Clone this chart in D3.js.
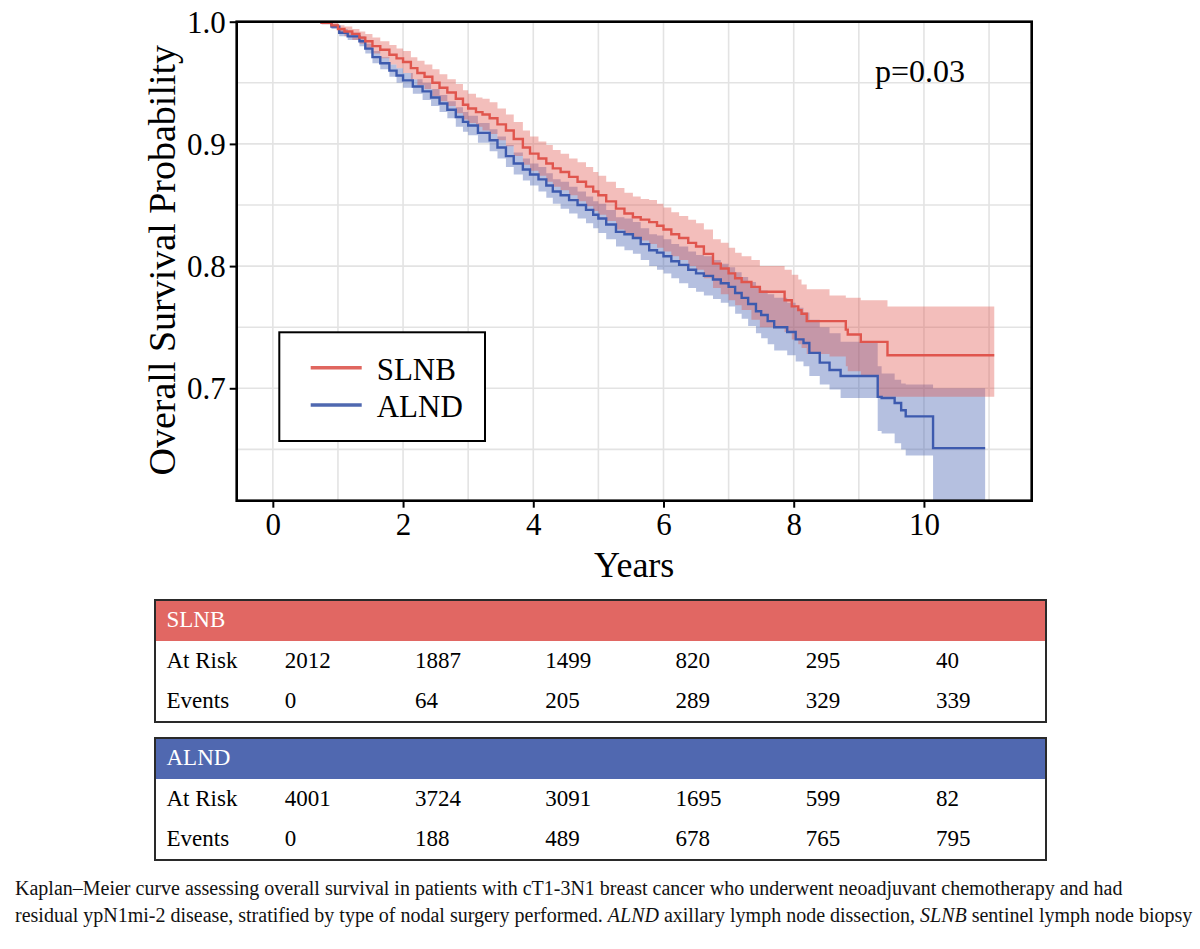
<!DOCTYPE html>
<html>
<head>
<meta charset="utf-8">
<script src="https://cdn.jsdelivr.net/npm/d3@7"></script>
<style>
  body { margin: 0; background: #fff; }
  svg { display: block; }
  .serif { font-family: "Liberation Serif", "Times New Roman", serif; }
</style>
</head>
<body>
<div id="chart"></div>
<script>
// Kaplan-Meier estimates: [years, survival, lower CI, upper CI]
var slnbKM = [
  [0.60, 1.000, 1.000, 1.000], [0.75, 0.999, 0.998, 1.000], [0.90, 0.997, 0.995, 0.999],
  [1.00, 0.994, 0.991, 0.997], [1.10, 0.992, 0.988, 0.996], [1.22, 0.990, 0.985, 0.994],
  [1.33, 0.987, 0.982, 0.992], [1.42, 0.984, 0.978, 0.990], [1.53, 0.980, 0.974, 0.987],
  [1.65, 0.977, 0.970, 0.984], [1.79, 0.973, 0.965, 0.981], [1.90, 0.970, 0.962, 0.978],
  [2.00, 0.967, 0.958, 0.976], [2.12, 0.962, 0.953, 0.971], [2.22, 0.958, 0.948, 0.968],
  [2.33, 0.955, 0.945, 0.965], [2.45, 0.950, 0.939, 0.961], [2.56, 0.946, 0.935, 0.957],
  [2.68, 0.942, 0.931, 0.953], [2.81, 0.937, 0.925, 0.949], [2.92, 0.932, 0.920, 0.944],
  [3.00, 0.929, 0.917, 0.941], [3.12, 0.926, 0.914, 0.938], [3.22, 0.924, 0.911, 0.937],
  [3.33, 0.921, 0.908, 0.934], [3.45, 0.916, 0.903, 0.929], [3.58, 0.911, 0.898, 0.924],
  [3.70, 0.904, 0.890, 0.918], [3.84, 0.897, 0.883, 0.911], [3.95, 0.892, 0.878, 0.906],
  [4.08, 0.888, 0.874, 0.902], [4.20, 0.884, 0.869, 0.899], [4.30, 0.880, 0.865, 0.895],
  [4.42, 0.877, 0.862, 0.892], [4.55, 0.873, 0.858, 0.888], [4.68, 0.869, 0.853, 0.885],
  [4.81, 0.865, 0.849, 0.881], [4.92, 0.861, 0.845, 0.877], [5.00, 0.858, 0.842, 0.874],
  [5.12, 0.853, 0.837, 0.869], [5.27, 0.847, 0.830, 0.864], [5.40, 0.843, 0.826, 0.860],
  [5.53, 0.840, 0.823, 0.857], [5.65, 0.838, 0.821, 0.855], [5.78, 0.836, 0.818, 0.854],
  [5.90, 0.833, 0.815, 0.851], [6.00, 0.830, 0.812, 0.848], [6.12, 0.826, 0.808, 0.844],
  [6.24, 0.823, 0.805, 0.841], [6.38, 0.819, 0.800, 0.838], [6.50, 0.816, 0.797, 0.835],
  [6.62, 0.810, 0.790, 0.830], [6.76, 0.802, 0.782, 0.822], [6.88, 0.798, 0.777, 0.819],
  [7.00, 0.794, 0.772, 0.815], [7.10, 0.790, 0.768, 0.811], [7.20, 0.787, 0.764, 0.808],
  [7.35, 0.783, 0.756, 0.805], [7.48, 0.779, 0.750, 0.800], [7.86, 0.772, 0.746, 0.797],
  [7.97, 0.767, 0.740, 0.793], [8.07, 0.764, 0.736, 0.789], [8.12, 0.761, 0.733, 0.785],
  [8.20, 0.755, 0.728, 0.781], [8.55, 0.755, 0.726, 0.776], [8.80, 0.748, 0.718, 0.774],
  [8.83, 0.744, 0.714, 0.774], [9.03, 0.738, 0.710, 0.772], [9.30, 0.738, 0.693, 0.772],
  [9.44, 0.727, 0.693, 0.767], [11.08, 0.727, 0.693, 0.767]
];

var alndKM = [
  [0.60, 1.000, 1.000, 1.000], [0.75, 0.999, 0.998, 1.000], [0.90, 0.996, 0.994, 0.998],
  [1.02, 0.991, 0.988, 0.994], [1.15, 0.988, 0.985, 0.991], [1.33, 0.984, 0.980, 0.988],
  [1.42, 0.978, 0.974, 0.982], [1.53, 0.971, 0.966, 0.976], [1.65, 0.966, 0.961, 0.971],
  [1.79, 0.960, 0.955, 0.965], [1.90, 0.956, 0.950, 0.962], [2.00, 0.952, 0.946, 0.958],
  [2.15, 0.947, 0.941, 0.953], [2.30, 0.943, 0.936, 0.950], [2.43, 0.938, 0.931, 0.945],
  [2.56, 0.933, 0.926, 0.940], [2.68, 0.928, 0.921, 0.935], [2.81, 0.922, 0.914, 0.930],
  [2.92, 0.918, 0.910, 0.926], [3.00, 0.915, 0.907, 0.923], [3.15, 0.909, 0.901, 0.917],
  [3.33, 0.903, 0.894, 0.912], [3.45, 0.897, 0.888, 0.906], [3.58, 0.890, 0.881, 0.899],
  [3.70, 0.884, 0.875, 0.893], [3.84, 0.879, 0.870, 0.888], [3.95, 0.875, 0.866, 0.884],
  [4.08, 0.871, 0.861, 0.881], [4.20, 0.866, 0.856, 0.876], [4.30, 0.861, 0.851, 0.871],
  [4.42, 0.858, 0.847, 0.869], [4.55, 0.854, 0.843, 0.865], [4.68, 0.850, 0.839, 0.861],
  [4.81, 0.846, 0.835, 0.857], [4.92, 0.842, 0.831, 0.853], [5.00, 0.839, 0.827, 0.851],
  [5.12, 0.834, 0.822, 0.846], [5.27, 0.828, 0.816, 0.840], [5.40, 0.826, 0.813, 0.839],
  [5.53, 0.823, 0.810, 0.836], [5.65, 0.818, 0.805, 0.831], [5.78, 0.813, 0.800, 0.826],
  [5.90, 0.811, 0.797, 0.825], [6.00, 0.808, 0.794, 0.822], [6.12, 0.804, 0.790, 0.818],
  [6.24, 0.801, 0.786, 0.816], [6.38, 0.797, 0.782, 0.812], [6.50, 0.794, 0.779, 0.809],
  [6.62, 0.792, 0.776, 0.808], [6.76, 0.789, 0.773, 0.805], [6.88, 0.786, 0.770, 0.802],
  [7.00, 0.783, 0.767, 0.799], [7.10, 0.778, 0.761, 0.795], [7.20, 0.774, 0.757, 0.791],
  [7.30, 0.769, 0.751, 0.787], [7.42, 0.763, 0.745, 0.782], [7.50, 0.760, 0.741, 0.780],
  [7.60, 0.755, 0.736, 0.777], [7.70, 0.750, 0.731, 0.774], [7.90, 0.746, 0.727, 0.770],
  [8.03, 0.740, 0.722, 0.766], [8.15, 0.737, 0.718, 0.762], [8.24, 0.729, 0.710, 0.756],
  [8.40, 0.721, 0.703, 0.750], [8.55, 0.715, 0.699, 0.745], [8.72, 0.710, 0.692, 0.738],
  [9.29, 0.693, 0.665, 0.718], [9.35, 0.692, 0.663, 0.712], [9.55, 0.688, 0.655, 0.707],
  [9.65, 0.682, 0.650, 0.704], [9.72, 0.677, 0.645, 0.703], [10.14, 0.651, 0.585, 0.700],
  [10.94, 0.651, 0.585, 0.700]
];

var xTicks = [0, 2, 4, 6, 8, 10];
var yTicks = [0.7, 0.8, 0.9, 1.0];
var groups = ["SLNB", "ALND"];
var pValue = "p=0.03";

// number-at-risk table
var tableYears = [0, 2, 4, 6, 8, 10];
var slnbAtRisk = [2012, 1887, 1499, 820, 295, 40];
var slnbEvents = [0, 64, 205, 289, 329, 339];
var alndAtRisk = [4001, 3724, 3091, 1695, 599, 82];
var alndEvents = [0, 188, 489, 678, 765, 795];

var captionLines = [
  "Kaplan\u2013Meier curve assessing overall survival in patients with cT1-3N1 breast cancer who underwent neoadjuvant chemotherapy and had",
  "residual ypN1mi-2 disease, stratified by type of nodal surgery performed. <i>ALND</i> axillary lymph node dissection, <i>SLNB</i> sentinel lymph node biopsy"
];

var colors = {SLNB: "#e0554d", ALND: "#3d5aae"};
var headerColors = {SLNB: "#e16763", ALND: "#5068b0"};

var width = 1200, height = 949;
var plot = {left: 236.7, right: 1031.7, top: 21.7, bottom: 500.7};

var svg = d3.select("#chart").append("svg")
    .attr("width", width)
    .attr("height", height)
    .attr("class", "serif");

svg.append("rect").attr("width", width).attr("height", height).attr("fill", "#fff");

var x = d3.scaleLinear().domain([-0.555, 11.655]).range([plot.left, plot.right]);
var y = d3.scaleLinear().domain([0.608, 1.0]).range([plot.bottom, plot.top]);

svg.append("clipPath").attr("id", "clip")
  .append("rect")
    .attr("x", plot.left).attr("y", plot.top)
    .attr("width", plot.right - plot.left)
    .attr("height", plot.bottom - plot.top);

// grid: every year, every 0.05
var grid = svg.append("g").attr("clip-path", "url(#clip)");
grid.selectAll("line.vx")
  .data(d3.range(0, 12))
  .enter().append("line")
    .attr("x1", (d) => x(d)).attr("x2", (d) => x(d))
    .attr("y1", plot.top).attr("y2", plot.bottom)
    .attr("stroke", "#e3e3e3").attr("stroke-width", 1.6);
grid.selectAll("line.hy")
  .data(d3.range(0.65, 1.0, 0.05))
  .enter().append("line")
    .attr("y1", (d) => y(d)).attr("y2", (d) => y(d))
    .attr("x1", plot.left).attr("x2", plot.right)
    .attr("stroke", "#e3e3e3").attr("stroke-width", 1.6);

var band = d3.area()
    .curve(d3.curveStepAfter)
    .x((d) => x(d[0]))
    .y0((d) => y(d[2]))
    .y1((d) => y(d[3]));

var line = d3.line()
    .curve(d3.curveStepAfter)
    .x((d) => x(d[0]))
    .y((d) => y(d[1]));

var curves = svg.append("g").attr("clip-path", "url(#clip)");

// blue band first, red band over it (gives the mauve overlap)
curves.append("path").datum(alndKM)
    .attr("d", band).attr("fill", colors.ALND).attr("fill-opacity", 0.38);
curves.append("path").datum(slnbKM)
    .attr("d", band).attr("fill", colors.SLNB).attr("fill-opacity", 0.38);

curves.append("path").datum(alndKM)
    .attr("d", line).attr("fill", "none")
    .attr("stroke", colors.ALND).attr("stroke-width", 2.4);
curves.append("path").datum(slnbKM)
    .attr("d", line).attr("fill", "none")
    .attr("stroke", colors.SLNB).attr("stroke-width", 2.4);

// axes
var xAxis = svg.append("g")
    .attr("transform", "translate(0," + plot.bottom + ")")
    .call(d3.axisBottom(x).tickValues(xTicks).tickSize(7).tickSizeOuter(0));
var yAxis = svg.append("g")
    .attr("transform", "translate(" + plot.left + ",0)")
    .call(d3.axisLeft(y).tickValues(yTicks).tickFormat(d3.format(".1f")).tickSize(7).tickSizeOuter(0));

[xAxis, yAxis].forEach((g) => {
  g.select(".domain").remove();
  g.selectAll(".tick line").attr("stroke", "#000").attr("stroke-width", 2);
  g.selectAll(".tick text")
    .attr("fill", "#000")
    .style("font-family", "'Liberation Serif', serif")
    .style("font-size", "31px");
});
xAxis.selectAll(".tick text").attr("y", 12).attr("dy", "0.71em");
yAxis.selectAll(".tick text").attr("x", -11).attr("dy", "0.34em");

// frame
svg.append("rect")
    .attr("x", plot.left).attr("y", plot.top)
    .attr("width", plot.right - plot.left)
    .attr("height", plot.bottom - plot.top)
    .attr("fill", "none").attr("stroke", "#000").attr("stroke-width", 2.6);

svg.append("text")
    .attr("x", (plot.left + plot.right) / 2).attr("y", 577)
    .attr("text-anchor", "middle")
    .style("font-size", "36px")
    .text("Years");

svg.append("text")
    .attr("transform", "translate(175," + ((plot.top + plot.bottom) / 2 - 1) + ") rotate(-90)")
    .attr("text-anchor", "middle")
    .style("font-size", "38px")
    .text("Overall Survival Probability");

svg.append("text")
    .attr("x", 875).attr("y", 82)
    .style("font-size", "32px")
    .text(pValue);

// legend
var legend = svg.append("g");
legend.append("rect")
    .attr("x", 279.3).attr("y", 332.3)
    .attr("width", 205.7).attr("height", 108.7)
    .attr("fill", "#fff").attr("stroke", "#000").attr("stroke-width", 2);
var legendItem = legend.selectAll("g.item")
    .data(groups)
  .enter().append("g")
    .attr("transform", (d, i) => "translate(0," + (367.7 + i * 37.3) + ")");
legendItem.append("line")
    .attr("x1", 310.7).attr("x2", 361.7)
    .attr("stroke", (d) => d === "SLNB" ? "#e0665f" : "#4f68b0")
    .attr("stroke-width", 3.5);
legendItem.append("text")
    .attr("x", 376.7).attr("y", 12)
    .style("font-size", "31px")
    .text((d) => d);

// risk tables
var tables = [
  {name: "SLNB", top: 600, rows: [["At Risk", slnbAtRisk], ["Events", slnbEvents]]},
  {name: "ALND", top: 738, rows: [["At Risk", alndAtRisk], ["Events", alndEvents]]}
];

var tableLeft = 155, tableRight = 1046;

tables.forEach((t) => {
  var g = svg.append("g").attr("transform", "translate(0," + t.top + ")");
  g.append("rect")
      .attr("x", tableLeft).attr("y", 0)
      .attr("width", tableRight - tableLeft).attr("height", 41)
      .attr("fill", headerColors[t.name]);
  g.append("text")
      .attr("x", 166.5).attr("y", 27)
      .attr("fill", "#fff")
      .style("font-size", "23px")
      .text(t.name);
  t.rows.forEach((row, r) => {
    var by = 67.5 + r * 40.5;
    g.append("text")
        .attr("x", 166.5).attr("y", by)
        .style("font-size", "23px")
        .text(row[0]);
    g.selectAll("text.v" + r)
        .data(row[1])
      .enter().append("text")
        .attr("x", (d, i) => x(tableYears[i]) + 12)
        .attr("y", by)
        .style("font-size", "23px")
        .text((d) => d);
  });
  g.append("rect")
      .attr("x", tableLeft).attr("y", 0)
      .attr("width", tableRight - tableLeft).attr("height", 122)
      .attr("fill", "none").attr("stroke", "#2a2a2a").attr("stroke-width", 2);
});

// caption
var caption = svg.append("g")
    .style("font-family", "'Liberation Serif', serif")
    .style("font-size", "20px")
    .attr("fill", "#111");
captionLines.forEach((txt, i) => {
  var t = caption.append("text").attr("x", 15).attr("y", 895 + i * 27);
  txt.split(/(<i>.*?<\/i>)/).forEach((part) => {
    if (!part) return;
    var italic = part.indexOf("<i>") === 0;
    t.append("tspan")
        .style("font-style", italic ? "italic" : "normal")
        .text(part.replace(/<\/?i>/g, ""));
  });
});
</script>
</body>
</html>
